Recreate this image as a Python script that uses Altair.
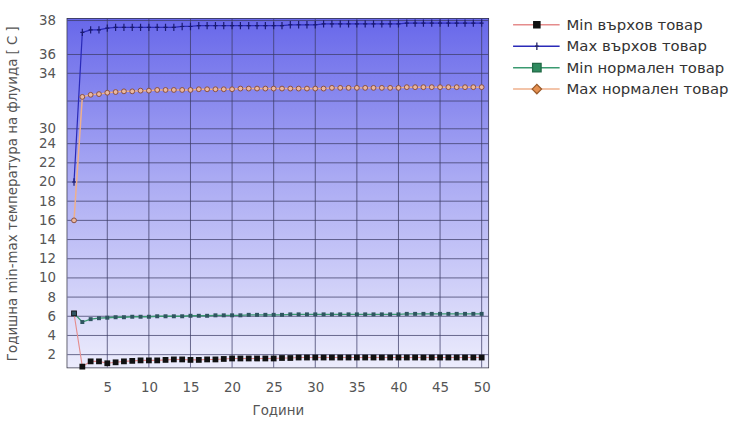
import altair as alt
import pandas as pd

years = list(range(1, 51))
series = ["Min върхов товар", "Max върхов товар", "Min нормален товар", "Max нормален товар"]

min_peak = [6.3, 0.75, 1.3, 1.3, 1.1, 1.2, 1.3, 1.35, 1.4, 1.4,
            1.4, 1.45, 1.5, 1.5, 1.45, 1.45, 1.5, 1.5, 1.55, 1.6,
            1.6, 1.6, 1.6, 1.6, 1.6, 1.65, 1.65, 1.7, 1.7, 1.7,
            1.7, 1.7, 1.7, 1.7, 1.7, 1.7, 1.7, 1.7, 1.7, 1.7,
            1.7, 1.7, 1.7, 1.7, 1.7, 1.7, 1.7, 1.7, 1.7, 1.7]
max_peak = [20.0, 37.3, 37.45, 37.45, 37.55, 37.6, 37.6, 37.6, 37.6, 37.6,
            37.6, 37.6, 37.6, 37.65, 37.65, 37.7, 37.7, 37.7, 37.7, 37.7,
            37.7, 37.7, 37.7, 37.7, 37.7, 37.7, 37.75, 37.75, 37.75, 37.75,
            37.8, 37.8, 37.8, 37.8, 37.8, 37.8, 37.8, 37.8, 37.8, 37.8,
            37.85, 37.85, 37.85, 37.85, 37.85, 37.85, 37.85, 37.85, 37.85, 37.85]
min_norm = [6.3, 5.4, 5.7, 5.8, 5.85, 5.9, 5.9, 5.95, 5.95, 5.95,
            6.0, 6.0, 6.0, 6.0, 6.05, 6.05, 6.05, 6.1, 6.1, 6.1,
            6.1, 6.15, 6.15, 6.15, 6.15, 6.15, 6.2, 6.2, 6.2, 6.2,
            6.2, 6.2, 6.2, 6.2, 6.2, 6.2, 6.2, 6.2, 6.2, 6.2,
            6.25, 6.25, 6.25, 6.25, 6.25, 6.25, 6.25, 6.25, 6.25, 6.25]
max_norm = [16.0, 32.3, 32.45, 32.5, 32.6, 32.65, 32.7, 32.7, 32.75, 32.75,
            32.8, 32.8, 32.8, 32.8, 32.8, 32.85, 32.85, 32.85, 32.85, 32.85,
            32.9, 32.9, 32.9, 32.9, 32.9, 32.9, 32.9, 32.9, 32.9, 32.9,
            32.9, 32.95, 32.95, 32.95, 32.95, 32.95, 32.95, 32.95, 32.95, 32.95,
            33.0, 33.0, 33.0, 33.0, 33.0, 33.0, 33.0, 33.0, 33.0, 33.0]

x_ticks = [5, 10, 15, 20, 25, 30, 35, 40, 45, 50]
y_ticks = [2, 4, 6, 8, 10, 12, 14, 16, 18, 20, 22, 24, 30, 34, 36, 38]
y_grid = [2, 4, 6, 8, 10, 12, 14, 16, 18, 20, 22, 24, 30, 32, 34, 36, 38]

line_colors = ["#e58c8c", "#2a2ab8", "#3a9a70", "#efb08c"]
line_widths = [1.1, 1.5, 1.1, 1.3]

df = pd.DataFrame({
    "Година": years * 4,
    "Стойност": min_peak + max_peak + min_norm + max_norm,
    "Серия": [s for s in series for _ in years],
})

W, H = 425, 352
FONT = "DejaVu Sans"
GRID = "#3c3c66"

grad = alt.LinearGradient(
    gradient="linear",
    stops=[alt.GradientStop(color="#6868ea", offset=0),
           alt.GradientStop(color="#a9a9f3", offset=0.45),
           alt.GradientStop(color="#ececfc", offset=1)],
    x1=0, x2=0, y1=0, y2=1,
)

xscale = alt.Scale(domain=[0.2, 50.8], nice=False, zero=False)
yscale = alt.Scale(domain=[0.66, 24, 30, 34, 36, 38.1],
                   range=[H, 126, 111, 55, 36, 0], nice=False, zero=False)

xaxis = alt.Axis(values=x_ticks, title="Години", ticks=False, tickSize=0, grid=False,
                 domain=False, labelPadding=13, titlePadding=10, titleFontSize=13.5)
yaxis = alt.Axis(values=y_ticks, title="Годишна min-max температура на флуида [ C ]",
                 ticks=False, tickSize=0, domain=False, labelPadding=12, grid=False,
                 titlePadding=19, titleFontSize=13.5)

xenc = alt.X("Година:Q", scale=xscale, axis=xaxis)
yenc = alt.Y("Стойност:Q", scale=yscale, axis=yaxis)

bg = alt.Chart(pd.DataFrame({"a": [0]})).mark_rect(color=grad).encode(
    x=alt.value(0), x2=alt.value("width"), y=alt.value(0), y2=alt.value("height"))

vgrid = alt.Chart(pd.DataFrame({"Година": x_ticks})).mark_rule(
    color=GRID, opacity=0.75, strokeWidth=1).encode(x=xenc)
hgrid = alt.Chart(pd.DataFrame({"Стойност": y_grid})).mark_rule(
    color=GRID, opacity=0.75, strokeWidth=1).encode(y=yenc)

base = alt.Chart(df)

lines = base.mark_line().encode(
    x=xenc, y=yenc,
    color=alt.Color("Серия:N", scale=alt.Scale(domain=series, range=line_colors), legend=None),
    strokeWidth=alt.StrokeWidth("Серия:N", scale=alt.Scale(domain=series, range=line_widths), legend=None),
)

pts_min_peak = base.transform_filter(alt.datum["Серия"] == series[0]).mark_point(
    shape="square", filled=True, color="#111111", size=34, opacity=1).encode(x=xenc, y=yenc)
pts_max_peak = base.transform_filter(alt.datum["Серия"] == series[1]).mark_point(
    shape="M0,-1V1M-0.55,0H0.55", filled=False, color="#1a1a70", size=55, strokeWidth=1.2,
    opacity=1).encode(x=xenc, y=yenc)
pts_min_norm = base.transform_filter(alt.datum["Серия"] == series[2]).mark_point(
    shape="square", filled=True, color="#2f5560", size=16, opacity=1).encode(x=xenc, y=yenc)
pts_max_norm = base.transform_filter(alt.datum["Серия"] == series[3]).mark_point(
    shape="circle", filled=False, stroke="#8a5040", fill="#eab8a0", size=24, strokeWidth=1,
    opacity=1).encode(x=xenc, y=yenc)

main = alt.layer(bg, vgrid, hgrid, lines, pts_min_peak, pts_max_peak, pts_min_norm, pts_max_norm).properties(
    width=W, height=H,
    view=alt.ViewBackground(stroke="#333344", strokeWidth=1.5),
)

# legend
leg_df = pd.DataFrame({"Серия": series})
leg_shapes = ["square", "M0,-1V1M-0.5,0H0.5", "square", "diamond"]
leg_fills = ["#111111", "#222266", "#2e8a5e", "#e59050"]
leg_strokes = ["#111111", "#222266", "#226a46", "#9a5a2a"]
leg_sizes = [40, 90, 55, 70]

ly = alt.Y("Серия:N", sort=series, scale=alt.Scale(type="point", domain=series, padding=0.28), axis=None)
lbase = alt.Chart(leg_df)
leg_rule = lbase.mark_rule(strokeWidth=1.5).encode(
    x=alt.value(0), x2=alt.value(47), y=ly,
    color=alt.Color("Серия:N", scale=alt.Scale(domain=series, range=line_colors), legend=None))
leg_pt = lbase.mark_point(filled=False, opacity=1, strokeWidth=1.3).encode(
    x=alt.value(24), y=ly,
    shape=alt.Shape("Серия:N", scale=alt.Scale(domain=series, range=leg_shapes), legend=None),
    fill=alt.Fill("Серия:N", scale=alt.Scale(domain=series, range=leg_fills), legend=None),
    stroke=alt.Stroke("Серия:N", scale=alt.Scale(domain=series, range=leg_strokes), legend=None),
    size=alt.Size("Серия:N", scale=alt.Scale(domain=series, range=leg_sizes), legend=None),
)
leg_text = lbase.mark_text(align="left", baseline="middle", fontSize=15, color="#333333", font=FONT).encode(
    x=alt.value(54), y=ly, text="Серия:N")

legend = alt.layer(leg_rule, leg_pt, leg_text).properties(
    width=200, height=77,
    view=alt.ViewBackground(stroke="transparent"),
)

chart = alt.hconcat(main, legend, spacing=20).resolve_scale(
    color="independent", y="independent", x="independent"
).properties(
    padding={"left": 5, "top": 10, "right": 0, "bottom": 0},
    background="white",
).configure_axis(
    labelFont=FONT, titleFont=FONT, labelFontSize=13.5,
    labelColor="#555555", titleColor="#555555", titleFontWeight="normal",
)

chart.save("out.html", embed_options={"renderer": "svg", "actions": False})
